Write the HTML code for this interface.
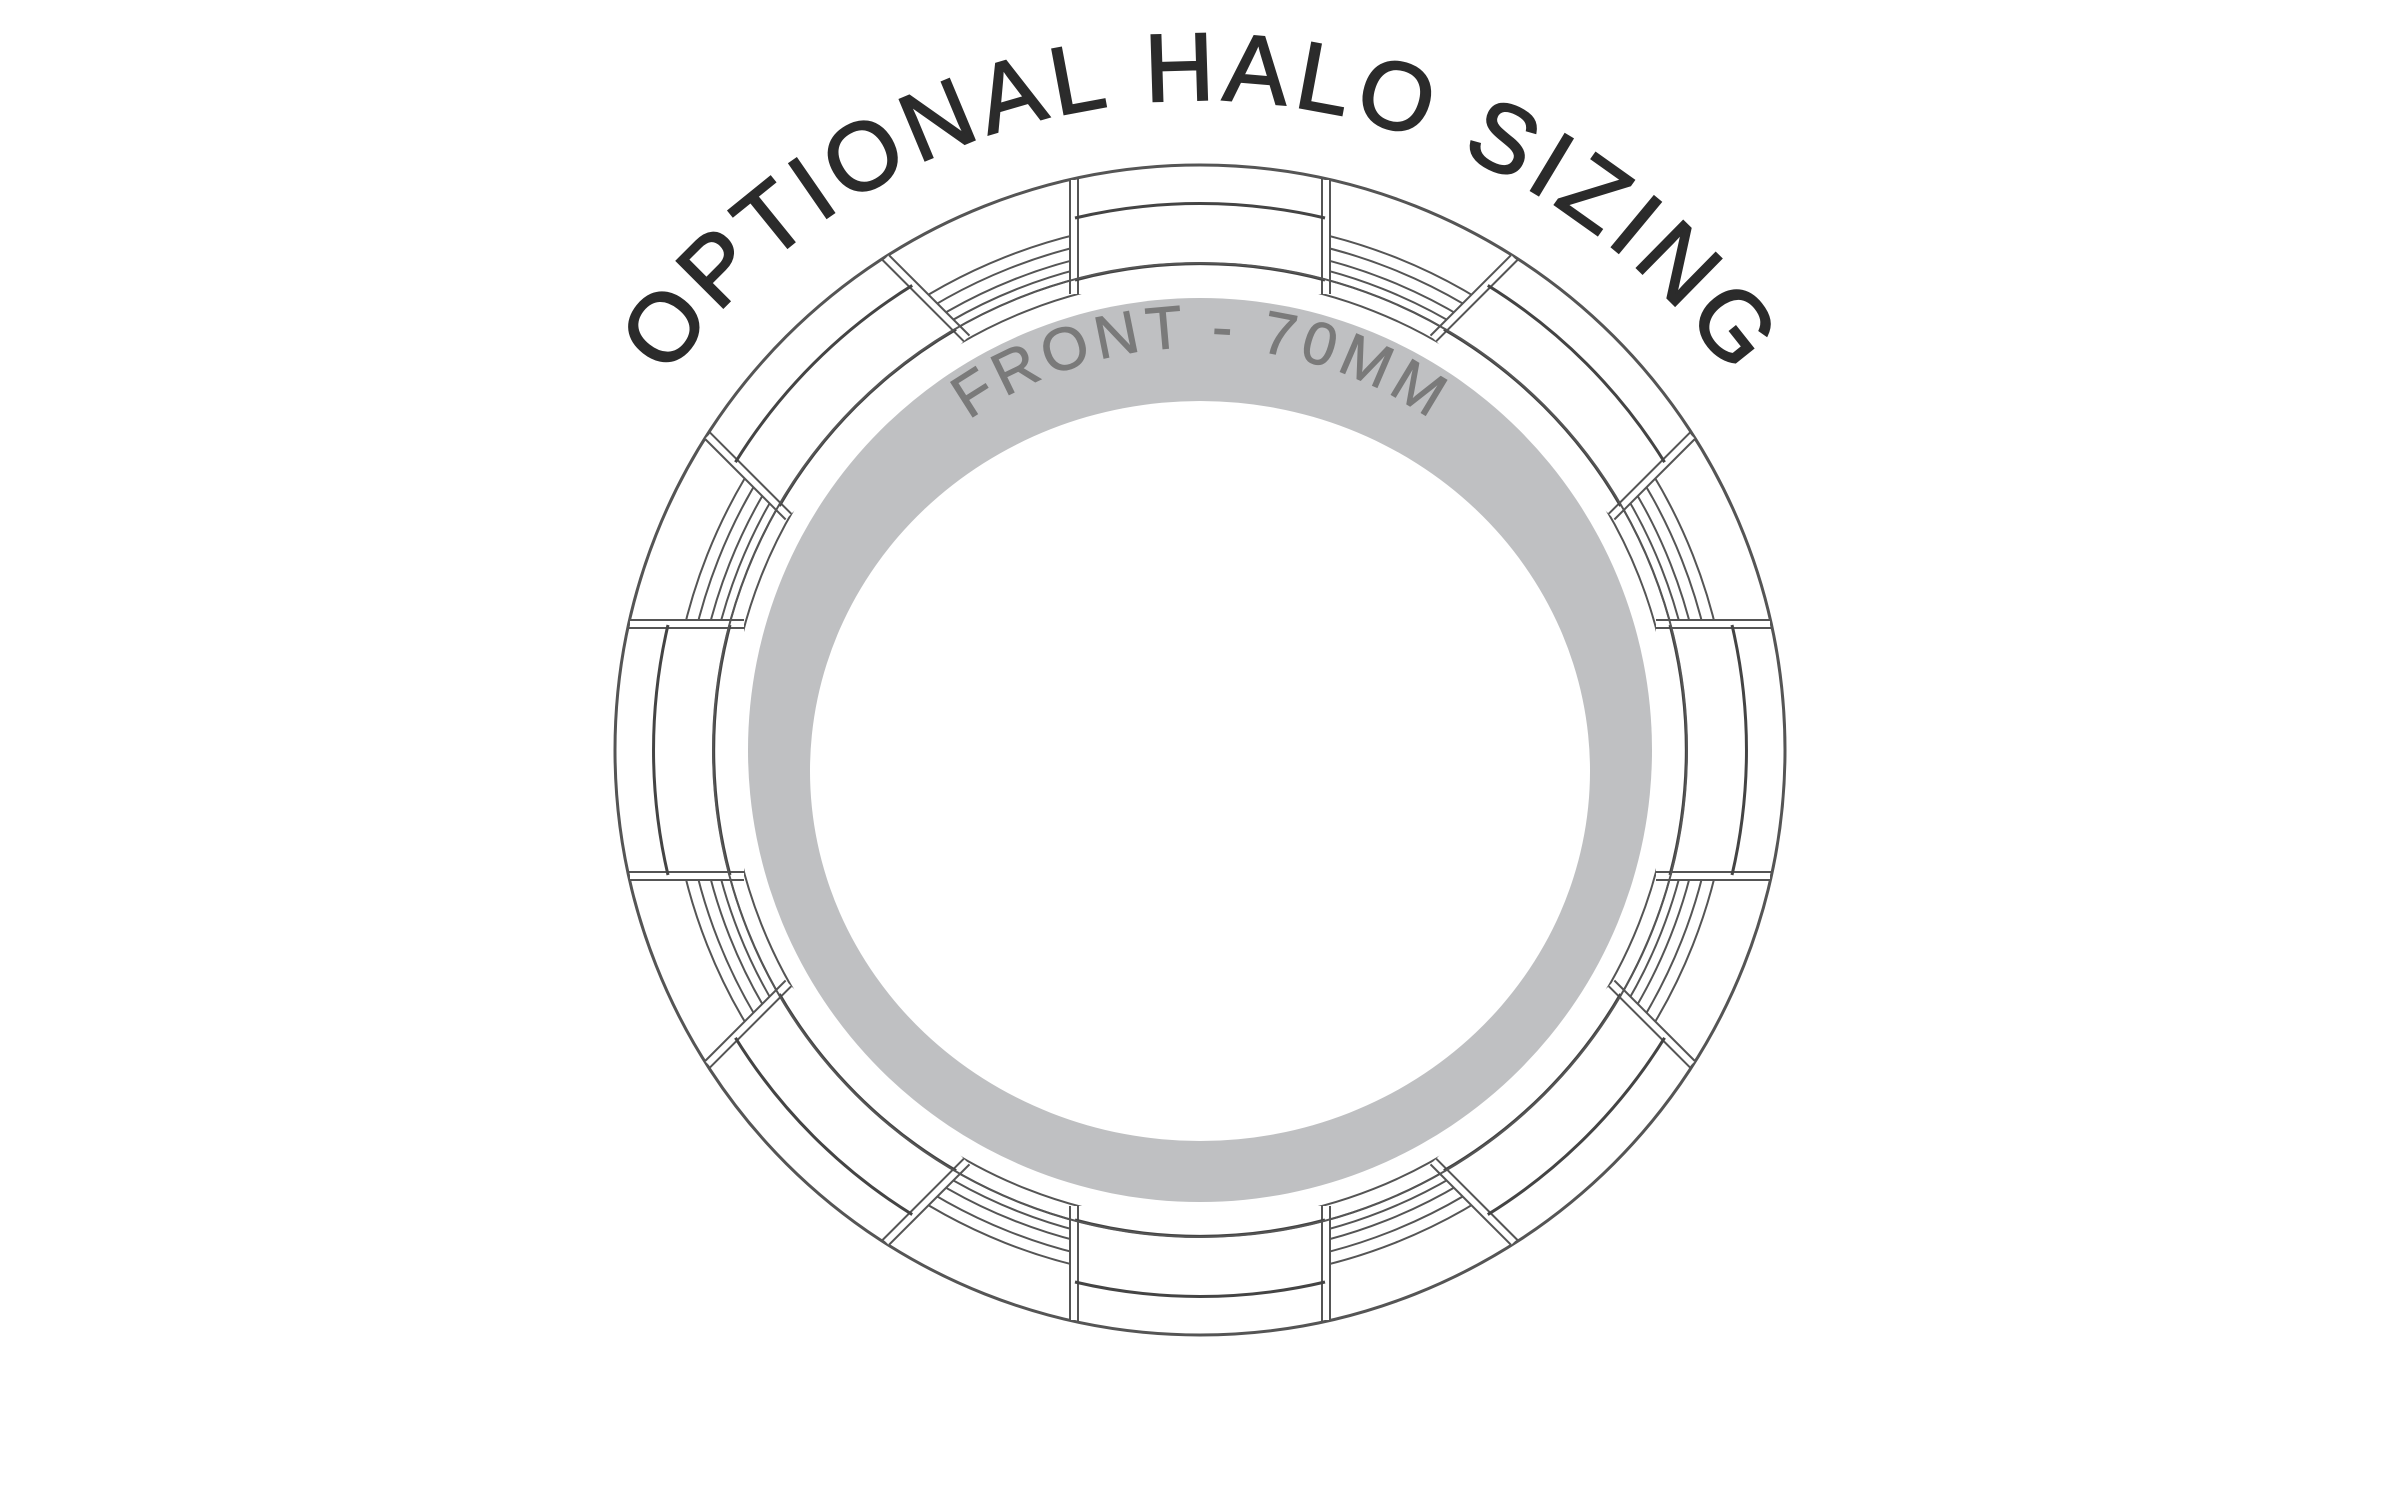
<!DOCTYPE html>
<html><head><meta charset="utf-8"><style>
html,body{margin:0;padding:0;background:#fff;}
svg{display:block;}
</style></head><body>
<svg width="2400" height="1500" viewBox="0 0 2400 1500" xmlns="http://www.w3.org/2000/svg">
<defs>
<path id="tp" d="M667.6 377.2 A650 650 0 0 1 1732.4 377.2"/>
<path id="fp" d="M968.9 419.9 A403 403 0 0 1 1431.1 419.9"/>
<g id="blk">
  <path d="M-130 -570 L-130 -456 L130 -456 L130 -570 Z" fill="#fff" stroke="none"/>
  <line x1="-130" y1="-570" x2="-130" y2="-456" stroke="#555" stroke-width="2"/>
  <line x1="-122" y1="-572" x2="-122" y2="-456" stroke="#555" stroke-width="2"/>
  <line x1="130" y1="-570" x2="130" y2="-456" stroke="#555" stroke-width="2"/>
  <line x1="122" y1="-572" x2="122" y2="-456" stroke="#555" stroke-width="2"/>
  <path d="M-125 -532 A547 547 0 0 1 125 -532" fill="none" stroke="#444" stroke-width="3"/>
  <path d="M-125 -470 A487 487 0 0 1 125 -470" fill="none" stroke="#444" stroke-width="3"/>
</g>
</defs>
<g fill="none" stroke="#555" stroke-width="2">
  <circle cx="1200" cy="750" r="585" stroke-width="3"/>
  <circle cx="1200" cy="750" r="530"/>
  <circle cx="1200" cy="750" r="518"/>
  <circle cx="1200" cy="750" r="506"/>
  <circle cx="1200" cy="750" r="496"/>
  <circle cx="1200" cy="750" r="487"/>
  <circle cx="1200" cy="750" r="472"/>
</g>
<g transform="translate(1200 750)">
  <use href="#blk"/>
  <use href="#blk" transform="rotate(45)"/>
  <use href="#blk" transform="rotate(90)"/>
  <use href="#blk" transform="rotate(135)"/>
  <use href="#blk" transform="rotate(180)"/>
  <use href="#blk" transform="rotate(225)"/>
  <use href="#blk" transform="rotate(270)"/>
  <use href="#blk" transform="rotate(315)"/>
</g>
<circle cx="1200" cy="750" r="487" fill="none" stroke="#555" stroke-width="2"/>
<circle cx="1200" cy="750" r="452" fill="#bfc0c2"/>
<ellipse cx="1200" cy="771" rx="390" ry="370" fill="#fff"/>
<text font-family="Liberation Sans, sans-serif" font-size="96" fill="#2b2b2b" stroke="#2b2b2b" stroke-width="2">
  <textPath href="#tp" textLength="1245" lengthAdjust="spacing">OPTIONAL HALO SIZING</textPath>
</text>
<text font-family="Liberation Sans, sans-serif" font-size="60" fill="#7a7a7a" stroke="#7a7a7a" stroke-width="1">
  <textPath href="#fp" textLength="490" lengthAdjust="spacing">FRONT - 70MM</textPath>
</text>
</svg>
</body></html>
